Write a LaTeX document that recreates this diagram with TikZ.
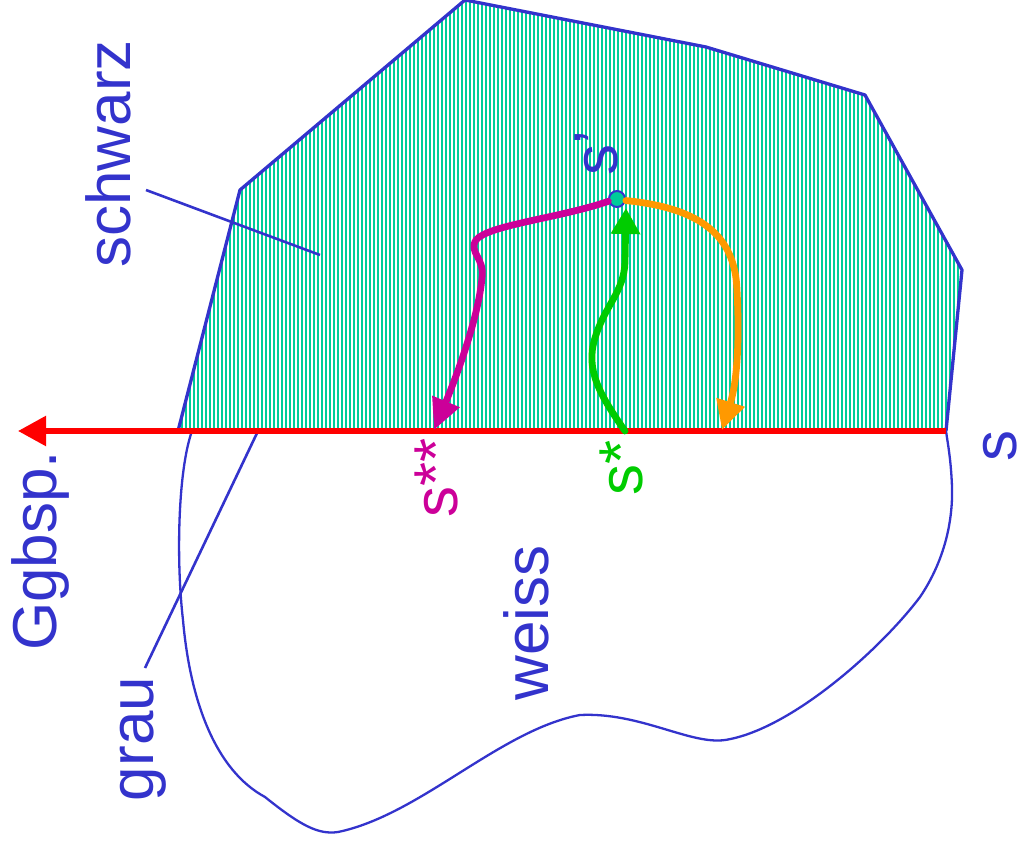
\documentclass[tikz,border=0pt]{standalone}
\usepackage{fontspec}
\setmainfont{Liberation Sans}
\usetikzlibrary{arrows.meta}
\definecolor{cblue}{HTML}{3333CC}
\definecolor{chatch}{HTML}{00CC99}
\definecolor{cred}{HTML}{FF0000}
\definecolor{cmag}{HTML}{CC0099}
\definecolor{cgreen}{HTML}{00CC00}
\definecolor{corange}{HTML}{FF9900}
\tikzset{
  outline/.style={draw=cblue, line width=3.3pt, line join=round},
  thinout/.style={draw=cblue, line width=2.3pt},
  leader/.style={draw=cblue, line width=2.6pt},
  hatchline/.style={draw=chatch, line width=1.7pt},
  lbl/.style={font=\fontsize{62}{70}\selectfont, text=cblue, inner sep=0pt, rotate=90, anchor=base},
  patharrow/.style={line width=6.8pt, line cap=round},
}
\begin{document}
\begin{tikzpicture}[x=1pt,y=-1pt]
\useasboundingbox (0,0) rectangle (1028,845);
% hatched black region
\begin{scope}
  \clip (178,431) -- (240,190) -- (465,0) -- (706,47) -- (865,95) -- (962,270) -- (946,431) -- cycle;
  \foreach \x in {178,182,...,966} \draw[hatchline] (\x,-2) -- (\x,432);
\end{scope}
\draw[outline] (178,431) -- (240,190) -- (465,0) -- (706,47) -- (865,95) -- (962,270) -- (946,431);
% white region
\draw[thinout] (192,431) .. controls (178,470) and (176,560) .. (183,620)
  .. controls (190,700) and (215,770) .. (265,797)
  .. controls (300,825) and (318,835) .. (338,832)
  .. controls (420,815) and (500,730) .. (580,715)
  .. controls (640,712) and (690,745) .. (725,740)
  .. controls (790,730) and (880,650) .. (920,597)
  .. controls (945,560) and (953,520) .. (952,487)
  .. controls (951,460) and (948,445) .. (946,431);
% leader lines
\coordinate (schwarzend) at (146,190);
\coordinate (schwarzin) at (320,255);
\coordinate (grauend) at (145,668);
\coordinate (grauin) at (258,431);
\draw[leader] (schwarzend) -- (schwarzin);
\draw[leader] (grauin) -- (grauend);
% axis
\coordinate (axisstart) at (946,431);
\coordinate (axistip) at (18,431);
\draw[cred, line width=5.5pt, -{Triangle[length=28pt,width=29pt]}] (axisstart) -- (axistip);
% points
\coordinate (sstar) at (625,431);
\coordinate (sstarstar) at (434,430);
\coordinate (orangeend) at (722,430);
\node[circle, draw=cblue, fill=chatch, line width=2pt, minimum size=16pt, inner sep=0pt] (sprime) at (617,199) {};
% arrows
\draw[cgreen, patharrow, -{Triangle[length=26pt,width=28pt]}] (sstar)
  .. controls (600,395) and (585,370) .. (595,338)
  .. controls (605,305) and (624,292) .. (625,262) -- (626,208);
\draw[corange, patharrow, -{Triangle[length=29pt,width=28pt]}] (sprime.-10)
  .. controls (700,208) and (735,235) .. (737,290)
  .. controls (740,350) and (736,385) .. (orangeend);
\draw[cmag, patharrow, -{Triangle[length=31pt,width=28pt]}] (sprime.-165)
  .. controls (560,218) and (488,225) .. (476,240)
  .. controls (468,252) and (485,258) .. (482,278)
  .. controls (478,320) and (455,380) .. (sstarstar);
% labels
\node[lbl] (lschwarz) at (130,154) {schwarz};
\node[lbl] (lggbsp) at (56,551) {Ggbsp.};
\node[lbl] (lgrau) at (153,739) {grau};
\node[lbl] (lweiss) at (548,623) {weiss};
\node[lbl] (ls) at (1016,446) {s};
\node[lbl, text=cmag] (lsss) at (457,478) {s**};
\node[lbl, text=cgreen] (lss) at (642,468) {s*};
\node[lbl] (lsp) at (617,153) {s’};
\end{tikzpicture}
\end{document}
